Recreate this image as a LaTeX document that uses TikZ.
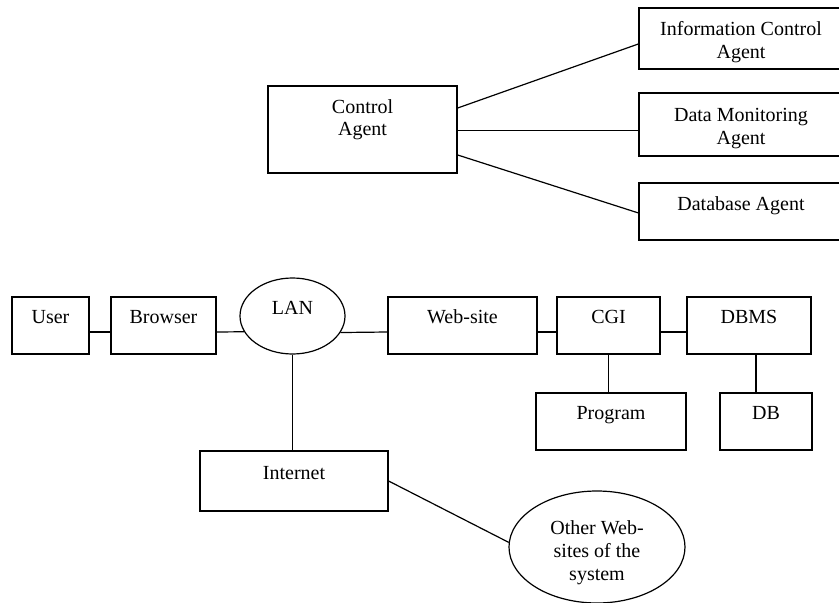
\documentclass[tikz,border=0pt]{standalone}
\usepackage{fontspec}
\setmainfont{Liberation Serif}
\usetikzlibrary{shapes.geometric}
\begin{document}
\begin{tikzpicture}[x=0.75pt,y=-0.75pt,line width=0.9pt,
	every node/.style={font=\fontsize{15}{17}\selectfont,inner sep=0pt},
	box/.style={draw,rectangle,text height=10pt,text depth=13pt},
	tbox/.style={draw,rectangle,align=center},
	oval/.style={draw,ellipse,align=center}]
	\def\dl{-4.875pt} % Linien unter der Mitte
	\useasboundingbox (0,0) rectangle (839,603);
	\clip (0,0) rectangle (839,603);
	% Agenten
	\node[tbox,minimum width=141.75pt,minimum height=65.25pt,text depth=18pt] (ctrl) at (362.5,129.5) {Control\\Agent};
	\node[tbox,minimum width=153pt,minimum height=45.75pt,text height=33pt] (info) at (741,38.5) {Information Control\\Agent};
	\node[tbox,minimum width=153pt,minimum height=47.25pt,text height=33pt] (data) at (741,124.5) {Data Monitoring\\Agent};
	\node[box,minimum width=153pt,minimum height=42.75pt,text depth=11pt] (dbag) at (741,211.5) {Database Agent};
	\draw ([yshift=16.1pt]ctrl.east) -- ([yshift=-4.1pt]info.west);
	\draw ([yshift=-0.75pt]ctrl.east) -- ([yshift=-4.5pt]data.west);
	\draw ([yshift=-19.1pt]ctrl.east) -- ([yshift=-1.1pt]dbag.west);
	% Netz
	\node[box,minimum width=57.75pt,minimum height=42.75pt] (user) at (50.5,325.5) {User};
	\node[box,minimum width=78.75pt,minimum height=42.75pt] (browser) at (163.5,325.5) {Browser};
	\node[oval,minimum width=78.75pt,minimum height=57pt,text height=10pt,text depth=13pt] (lan) at (292.5,316) {LAN};
	\node[box,minimum width=111.75pt,minimum height=42.75pt] (web) at (462.5,325.5) {Web-site};
	\node[box,minimum width=77.25pt,minimum height=42.75pt] (cgi) at (608.5,325.5) {CGI};
	\node[box,minimum width=93pt,minimum height=42.75pt] (dbms) at (749,325.5) {DBMS};
	\node[box,minimum width=112.5pt,minimum height=42.75pt] (prog) at (611,421.5) {Program};
	\node[box,minimum width=69pt,minimum height=42.75pt] (db) at (766,421.5) {DB};
	\node[box,minimum width=141pt,minimum height=45pt] (inet) at (294,481) {Internet};
	\node[oval,minimum width=132pt,minimum height=84pt,text height=53pt] (other) at (597,547) {Other Web-\\sites of the\\system};
	\draw ([yshift=\dl]user.east) -- ([yshift=\dl]browser.west);
	\draw ([yshift=\dl]browser.east) -- (lan.198.6);
	\draw (lan.341.4) -- ([yshift=\dl]web.west);
	\draw ([yshift=\dl]web.east) -- ([yshift=\dl]cgi.west);
	\draw ([yshift=\dl]cgi.east) -- ([yshift=\dl]dbms.west);
	\draw (cgi.south) -- (cgi.south |- prog.north);
	\draw ([xshift=5.25pt]dbms.south) -- ([xshift=5.25pt]dbms.south |- db.north);
	\draw (lan.south) -- (lan.south |- inet.north);
	\draw (inet.east) -- (other.177);
\end{tikzpicture}
\end{document}
